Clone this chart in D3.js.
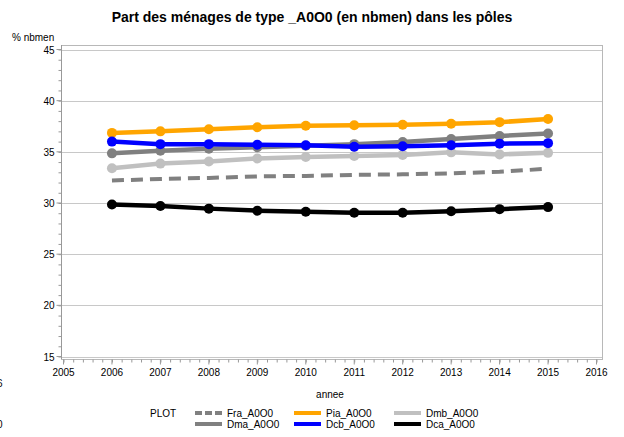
<!DOCTYPE html>
<html>
<head>
<meta charset="utf-8">
<script src="https://cdn.jsdelivr.net/npm/d3@7"></script>
<style>
  body { margin: 0; background: #fff; }
  svg { font-family: "Liberation Sans", Arial, sans-serif; }
</style>
</head>
<body>
<div id="chart"></div>
<script>
const years = [2006, 2007, 2008, 2009, 2010, 2011, 2012, 2013, 2014, 2015];
const xTicks = [2005, 2006, 2007, 2008, 2009, 2010, 2011, 2012, 2013, 2014, 2015, 2016];
const yTicks = [15, 20, 25, 30, 35, 40, 45];

const fra = [32.2, 32.35, 32.45, 32.6, 32.65, 32.75, 32.8, 32.9, 33.05, 33.35];
const pia = [36.85, 37.0, 37.2, 37.4, 37.55, 37.6, 37.65, 37.75, 37.9, 38.2];
const dmb = [33.4, 33.85, 34.05, 34.35, 34.5, 34.6, 34.7, 34.95, 34.75, 34.9];
const dma = [34.85, 35.1, 35.3, 35.45, 35.6, 35.75, 35.95, 36.25, 36.55, 36.8];
const dcb = [36.0, 35.75, 35.75, 35.7, 35.65, 35.5, 35.55, 35.65, 35.8, 35.85];
const dca = [29.85, 29.7, 29.45, 29.25, 29.15, 29.05, 29.05, 29.2, 29.4, 29.6];

const seriesNames = ["Fra_A0O0", "Pia_A0O0", "Dmb_A0O0", "Dma_A0O0", "Dcb_A0O0", "Dca_A0O0"];
const seriesValues = [fra, pia, dmb, dma, dcb, dca];
const seriesColors = ["#808080", "#FFA500", "#C0C0C0", "#808080", "#0000FF", "#000000"];
const seriesDashed = [true, false, false, false, false, false];

const width = 624, height = 437;
const svg = d3.select("#chart").append("svg")
    .attr("width", width).attr("height", height);

const plotL = 61, plotR = 602, plotT = 45, plotB = 359;
const x = d3.scaleLinear().domain([2005, 2016]).range([63.5, 596.5]);
const y = d3.scaleLinear().domain([15, 45]).range([356.5, 49.5]);

// title
svg.append("text")
    .attr("x", 312).attr("y", 22)
    .attr("text-anchor", "middle")
    .style("font-size", "14px").style("font-weight", "bold")
    .text("Part des ménages de type _A0O0 (en nbmen) dans les pôles");

// frame
svg.append("rect")
    .attr("x", plotL + 0.5).attr("y", plotT + 0.5)
    .attr("width", plotR - plotL).attr("height", plotB - plotT)
    .attr("fill", "none").attr("stroke", "#b8b8b8");

// grid lines
svg.selectAll(".grid").data(yTicks).enter().append("line")
    .attr("x1", plotL).attr("x2", plotR)
    .attr("y1", d => Math.round(y(d)) + 0.5).attr("y2", d => Math.round(y(d)) + 0.5)
    .attr("stroke", "#c8c8c8");

// y axis
const yAxis = svg.append("g").attr("transform", `translate(${plotL + 0.5},0)`);
yAxis.call(d3.axisLeft(y).tickValues(d3.range(15, 46, 1)).tickSize(3).tickFormat(""))
    .call(g => g.select(".domain").remove())
    .call(g => g.selectAll("line").attr("stroke", "#999"));
yAxis.selectAll(".ylab").data(yTicks).enter().append("text")
    .attr("class", "ylab")
    .attr("x", -7).attr("y", d => y(d) + 4)
    .attr("text-anchor", "end").attr("fill", "#000")
    .style("font-size", "10px").text(d => d);
yAxis.selectAll(".ymaj").data(yTicks).enter().append("line")
    .attr("x1", -5).attr("x2", 0)
    .attr("y1", d => y(d)).attr("y2", d => y(d)).attr("stroke", "#999");
svg.append("line").attr("x1", plotL + 0.5).attr("x2", plotL + 0.5)
    .attr("y1", plotT).attr("y2", plotB).attr("stroke", "#999");

// x axis
const xAxis = svg.append("g").attr("transform", `translate(0,${plotB + 0.5})`);
xAxis.call(d3.axisBottom(x).tickValues(d3.range(2005, 2016.01, 0.2)).tickSize(3).tickFormat(""))
    .call(g => g.select(".domain").remove())
    .call(g => g.selectAll("line").attr("stroke", "#999"));
xAxis.selectAll(".xlab").data(xTicks).enter().append("text")
    .attr("class", "xlab")
    .attr("x", d => x(d)).attr("y", 16)
    .attr("text-anchor", "middle").attr("fill", "#000")
    .style("font-size", "10px").text(d => d);
xAxis.selectAll(".xmaj").data(xTicks).enter().append("line")
    .attr("x1", d => x(d)).attr("x2", d => x(d))
    .attr("y1", 0).attr("y2", 5).attr("stroke", "#999");

// axis titles
svg.append("text").attr("x", 12).attr("y", 41)
    .style("font-size", "10px").text("% nbmen");
svg.append("text").attr("x", 330).attr("y", 398)
    .attr("text-anchor", "middle").style("font-size", "10px").text("annee");

// stray cut-off labels at left edge (as in the reference)
svg.append("text").attr("x", -3).attr("y", 387).style("font-size", "10px").text("6");
svg.append("text").attr("x", -3).attr("y", 428).style("font-size", "10px").text("0");

// lines: draw in an order close to the reference stacking
const line = d3.line().x((d, i) => x(years[i])).y(d => y(d));
const drawOrder = [0, 2, 3, 1, 4, 5];
drawOrder.forEach(k => {
    const g = svg.append("g");
    g.append("path")
        .datum(seriesValues[k])
        .attr("d", line)
        .attr("fill", "none")
        .attr("stroke", seriesColors[k])
        .attr("stroke-width", seriesDashed[k] ? 4 : 4.5)
        .attr("stroke-dasharray", seriesDashed[k] ? "12,7" : null);
    if (!seriesDashed[k]) {
        g.selectAll("circle").data(seriesValues[k]).enter().append("circle")
            .attr("cx", (d, i) => x(years[i]))
            .attr("cy", d => y(d))
            .attr("r", 5)
            .attr("fill", seriesColors[k]);
    }
});

// legend
svg.append("text").attr("x", 150).attr("y", 417)
    .style("font-size", "10px").text("PLOT");
const legendPos = [
    [195, 413], [294, 413], [394, 413],
    [195, 424], [294, 424], [394, 424]
];
seriesNames.forEach((name, k) => {
    const [lx, ly] = legendPos[k];
    svg.append("line")
        .attr("x1", lx).attr("x2", lx + 27)
        .attr("y1", ly).attr("y2", ly)
        .attr("stroke", seriesColors[k])
        .attr("stroke-width", 4)
        .attr("stroke-dasharray", seriesDashed[k] ? "7,3" : null);
    svg.append("text")
        .attr("x", lx + 32).attr("y", ly + 4)
        .style("font-size", "10px").text(name);
});
</script>
</body>
</html>
